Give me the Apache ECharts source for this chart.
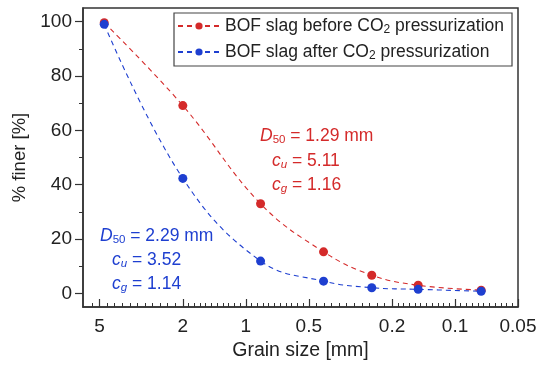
<!DOCTYPE html>
<html style="height: 100%">
<head>
    <meta charset="utf-8">
    <script src="https://cdn.jsdelivr.net/npm/echarts@6/dist/echarts.min.js"></script>
</head>
<body style="height: 100%; margin: 0; background: #fff">
    <div id="container" style="width: 548px; height: 367px"></div>
    <script type="text/javascript">

        // sieve sizes [mm] and % finer
        const sizes = [4.75, 2, 0.85, 0.425, 0.25, 0.15, 0.075];
        const before = [99.6, 69.1, 33.0, 15.3, 6.7, 3.0, 1.2];
        const after = [99.0, 42.3, 11.9, 4.5, 2.1, 1.5, 0.8];

        const xMajor = [5, 2, 1, 0.5, 0.2, 0.1, 0.05];
        const yMajor = [0, 20, 40, 60, 80, 100];
        const yMinor = [10, 30, 50, 70, 90];

        const RED = '#d42a2a';
        const BLUE = '#1e3fd0';
        const FONT = 'Liberation Sans';

        // minor ticks: 11 even (log) steps between majors, one extra beyond 5
        let xMinor = [];
        for (let i = 0; i < xMajor.length - 1; i++) {
            let a = Math.log10(xMajor[i]), b = Math.log10(xMajor[i + 1]);
            for (let k = 1; k < 11; k++) xMinor.push(Math.pow(10, a + (b - a) * k / 11));
        }
        xMinor.push(Math.pow(10, Math.log10(5) + (Math.log10(5) - Math.log10(2)) / 11));

        const pair = (xs, ys) => xs.map((x, i) => [x, ys[i]]);

        const sub = { fontSize: 11.5, fontFamily: FONT, padding: [8, 0, 0, 0] };
        const subI = { fontSize: 11.5, fontFamily: FONT, fontStyle: 'italic', padding: [8, 0, 0, 0] };
        const it = { fontSize: 17.5, fontFamily: FONT, fontStyle: 'italic' };
        const nm = { fontSize: 17.5, fontFamily: FONT };

        function note(x, y, text, color) {
            return {
                type: 'text', left: x, top: y,
                style: {
                    text: text, fill: color, fontSize: 17.5, fontFamily: FONT,
                    rich: { i: it, n: nm, s: sub, si: subI }
                }
            };
        }

        const xBase = {
            type: 'log', inverse: true, min: 0.05, max: 6, gridIndex: 0,
            splitLine: { show: false }, minorTick: { show: false }
        };
        const yBase = {
            type: 'value', min: -5, max: 105, splitLine: { show: false }
        };

        let chart = echarts.init(document.getElementById('container'));
        chart.setOption({
            animation: false,
            grid: {
                left: 83, right: 30, top: 8, bottom: 60,
                show: true, borderColor: '#333', borderWidth: 1.5
            },
            legend: {
                orient: 'vertical', left: 174, top: 13,
                borderColor: '#444', borderWidth: 1.2, borderRadius: 0,
                padding: [4, 8, 4, 3], itemGap: 7,
                itemWidth: 42, itemHeight: 9,
                textStyle: {
                    fontSize: 17.5, fontFamily: FONT, color: '#222',
                    rich: { n: { fontSize: 17.5, fontFamily: FONT, color: '#222' },
                            s: { fontSize: 12, fontFamily: FONT, color: '#222', padding: [8, 0, 0, 0] } }
                },
                formatter: function (name) {
                    return name.replace('CO2', '{n|CO}{s|2}').replace(/^(.*?)\{/, '{n|$1}{').replace(/\}([^{}]+)$/, '}{n|$1}');
                },
                data: ['BOF slag before CO2 pressurization', 'BOF slag after CO2 pressurization']
            },
            xAxis: [
                Object.assign({}, xBase, {
                    name: 'Grain size [mm]', nameLocation: 'middle', nameGap: 33,
                    nameTextStyle: { fontSize: 19.5, fontFamily: FONT, color: '#222' },
                    axisLine: { onZero: false, lineStyle: { color: '#333', width: 1.5 } },
                    axisTick: { inside: true, length: 8, customValues: xMajor, lineStyle: { color: '#333', width: 1.2 } },
                    axisLabel: {
                        customValues: xMajor, margin: 10, fontSize: 19, fontFamily: FONT, color: '#222',
                        formatter: v => String(+v.toPrecision(3))
                    }
                }),
                Object.assign({}, xBase, {
                    position: 'bottom',
                    axisLine: { show: false, onZero: false },
                    axisTick: { inside: true, length: 4, customValues: xMinor, lineStyle: { color: '#333', width: 1 } },
                    axisLabel: { show: false }
                })
            ],
            yAxis: [
                Object.assign({}, yBase, {
                    name: '% finer [%]', nameLocation: 'middle', nameGap: 46,
                    nameTextStyle: { fontSize: 18.5, fontFamily: FONT, color: '#222' },
                    axisLine: { show: true, onZero: false, lineStyle: { color: '#333', width: 1.5 } },
                    axisTick: { show: true, length: 8, customValues: yMajor, lineStyle: { color: '#333', width: 1.2 } },
                    axisLabel: { customValues: yMajor, margin: 11, fontSize: 19, fontFamily: FONT, color: '#222' }
                }),
                Object.assign({}, yBase, {
                    position: 'left',
                    axisLine: { show: false, onZero: false },
                    axisTick: { show: true, length: 4, customValues: yMinor, lineStyle: { color: '#333', width: 1 } },
                    axisLabel: { show: false }
                })
            ],
            series: [
                {
                    name: 'BOF slag before CO2 pressurization', type: 'line',
                    data: pair(sizes, before), smooth: 0.4,
                    symbol: 'circle', symbolSize: 9,
                    itemStyle: { color: RED },
                    lineStyle: { color: RED, width: 1.1, type: [5, 4] }
                },
                {
                    name: 'BOF slag after CO2 pressurization', type: 'line',
                    data: pair(sizes, after), smooth: 0.4,
                    symbol: 'circle', symbolSize: 9,
                    itemStyle: { color: BLUE },
                    lineStyle: { color: BLUE, width: 1.1, type: [5, 4] }
                }
            ],
            graphic: [
                note(260, 127, '{i|D}{s|50}{n| = 1.29 mm}', RED),
                note(272, 152, '{i|c}{si|u}{n| = 5.11}', RED),
                note(272, 176, '{i|c}{si|g}{n| = 1.16}', RED),
                note(100, 227, '{i|D}{s|50}{n| = 2.29 mm}', BLUE),
                note(112, 251, '{i|c}{si|u}{n| = 3.52}', BLUE),
                note(112, 275, '{i|c}{si|g}{n| = 1.14}', BLUE)
            ]
        });

    </script>
</body>
</html>
